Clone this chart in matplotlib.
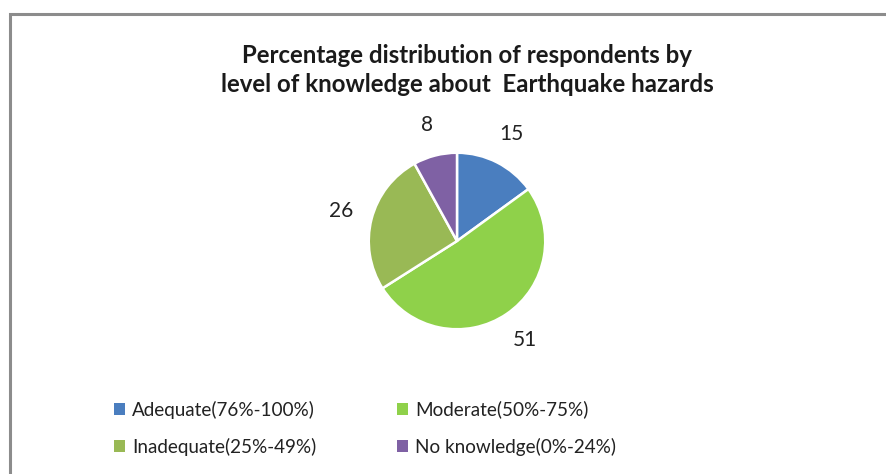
import matplotlib
matplotlib.use("Agg")
import matplotlib.pyplot as plt
from matplotlib.patches import Rectangle

# Knowledge levels about earthquake hazards (% of respondents)
categories = ["Adequate(76%-100%)", "Moderate(50%-75%)",
              "Inadequate(25%-49%)", "No knowledge(0%-24%)"]
values = [15, 51, 26, 8]
colors = ["#4A7EBF", "#8FD14A", "#99B955", "#7F61A4"]
title = "Percentage distribution of respondents by\nlevel of knowledge about  Earthquake hazards"

W, H = 886, 474
fig = plt.figure(figsize=(W / 100, H / 100), dpi=100)
fig.patch.set_facecolor("white")

# chart frame (runs off the right and bottom edges)
fig.add_artist(Rectangle((10 / W, -0.05), 1.2, 1 - 14 / H + 0.05,
                         transform=fig.transFigure, fill=False,
                         edgecolor="#8C8C8C", linewidth=2.2))

fig.text(467 / W, 1 - 70 / H, title, ha="center", va="center",
         fontsize=17.3, fontweight="bold", family="Lato", color="#1A1A1A",
         linespacing=1.3)

# pie axes: square of 300 px centred on the pie
cx, cy, side = 457, 241, 300
ax = fig.add_axes([(cx - side / 2) / W, 1 - (cy + side / 2) / H, side / W, side / H])

wedges, texts = ax.pie(values, colors=colors, startangle=90, counterclock=False,
                       labels=[str(v) for v in values], labeldistance=1.36,
                       wedgeprops=dict(edgecolor="white", linewidth=1.8),
                       textprops=dict(fontsize=15, family="Lato", color="#222222"))
ax.set_xlim(-1.7, 1.7)
ax.set_ylim(-1.7, 1.7)
ax.set_aspect("equal")
ax.axis("off")
for t in texts:
    t.set_ha("center")
    t.set_va("center")

# legend laid out row by row: (Adequate, Moderate) / (Inadequate, No knowledge)
order = [0, 2, 1, 3]
leg = fig.legend([wedges[i] for i in order], [categories[i] for i in order],
                 ncol=2, loc="center left", bbox_to_anchor=(97 / W, 1 - 428 / H),
                 frameon=False, handlelength=0.57, handleheight=0.57,
                 handletextpad=0.37, columnspacing=4.3, labelspacing=1.0,
                 prop=dict(family="Lato", size=13.6))
for h in leg.legend_handles:
    h.set_edgecolor("none")
for t in leg.get_texts():
    t.set_color("#222222")

fig.savefig("out.png", dpi=100, facecolor="white")
